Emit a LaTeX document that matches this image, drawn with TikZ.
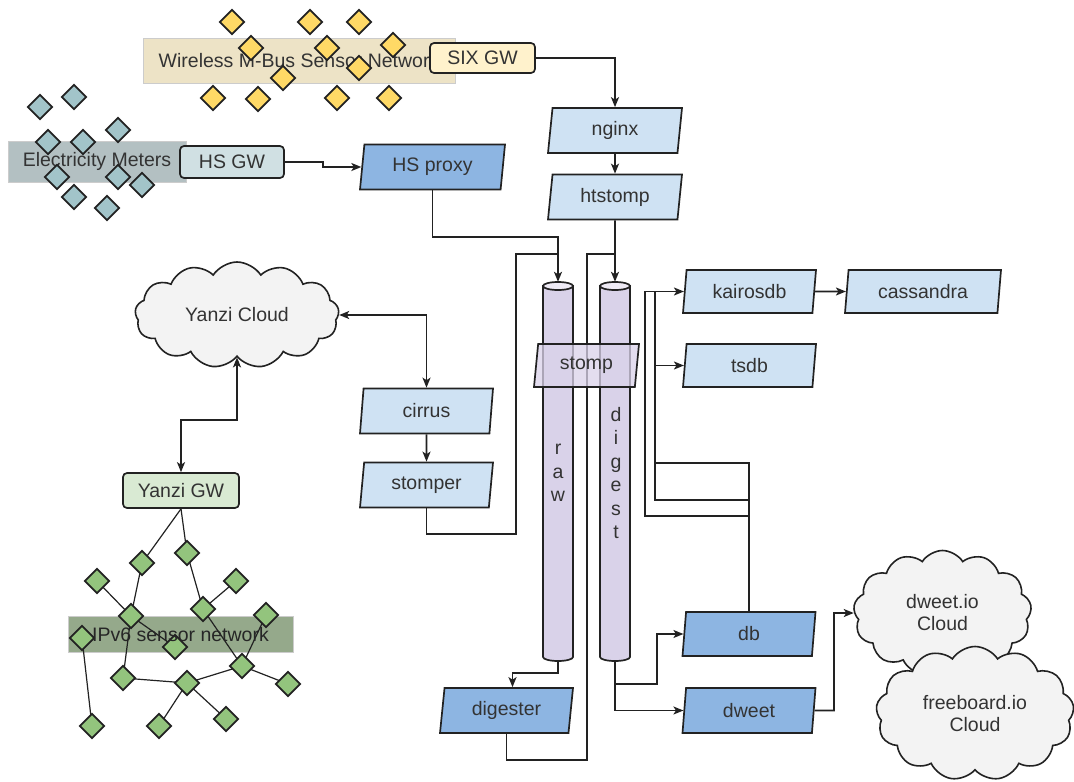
\documentclass[tikz,border=0pt]{standalone}
\usepackage{fontspec}
\setmainfont{Liberation Sans}
\usetikzlibrary{shapes.geometric,shapes.symbols,arrows.meta}
\definecolor{ln}{HTML}{222222}
\definecolor{txt}{HTML}{333333}
\definecolor{lblue}{HTML}{CFE2F3}
\definecolor{dblue}{HTML}{8DB5E2}
\definecolor{lav}{HTML}{D9D2E9}
\definecolor{lavtop}{HTML}{EEEAF5}
\definecolor{cloudfill}{HTML}{F3F3F3}
\definecolor{beige}{HTML}{EDE3C6}
\definecolor{elecfill}{HTML}{B3C0C2}
\definecolor{ipfill}{HTML}{95A98B}
\definecolor{sixfill}{HTML}{FFF2CC}
\definecolor{hsfill}{HTML}{D0E0E3}
\definecolor{ygwfill}{HTML}{D9EAD3}
\definecolor{ydia}{HTML}{FFD966}
\definecolor{bdia}{HTML}{A2C4C9}
\definecolor{gdia}{HTML}{93C47D}
\begin{document}
\begin{tikzpicture}[x=1pt,y=-1pt,
  every node/.style={font=\fontsize{19.5}{22}\selectfont, text=txt},
  line/.style={draw=ln, line width=1.7pt},
  arr/.style={line, -{Stealth[length=10pt,width=8pt,inset=2.5pt]}},
  darr/.style={line, {Stealth[length=10pt,width=8pt,inset=2.5pt]}-{Stealth[length=10pt,width=8pt,inset=2.5pt]}},
  para/.style={trapezium, trapezium left angle=76, trapezium right angle=104,
    trapezium stretches body, draw=ln, line width=1.7pt, inner sep=0pt,
    minimum height=45pt, minimum width=133pt, fill=lblue},
  rbox/.style={draw=ln, line width=1.7pt, rounded corners=4pt, inner sep=0pt},
  lblrect/.style={draw=black!20, line width=0.8pt, inner sep=0pt},
  dia/.style={diamond, draw=ln, line width=1.7pt, inner sep=0pt, minimum size=25pt},
  cloudst/.style={cloud, cloud puffs=13, cloud puff arc=115, cloud ignores aspect,
    draw=ln, line width=1.6pt, fill=cloudfill, inner sep=0pt, align=center},
  edge/.style={draw=ln, line width=1.2pt},
  cylst/.style={draw=ln, line width=1.7pt, fill=lav}
]
\useasboundingbox (0,0) rectangle (1074,782);

% ---------- Wireless M-Bus ----------
\node[lblrect, fill=beige, minimum width=312pt, minimum height=45pt] (wmbus) at (299,60.5) {Wireless M-Bus Sensor Network};
\foreach \x/\y [count=\i] in {232/22,310/22,359/22,251/48,327/48,393/45,283/78,359/68,213/98,258/99,337/98,389/98}
  \node[dia, fill=ydia] (y\i) at (\x,\y) {};
\node[rbox, fill=sixfill, minimum width=105pt, minimum height=30pt] (six) at (482.5,58) {SIX GW};

% ---------- Electricity meters ----------
\node[lblrect, fill=elecfill, minimum width=178pt, minimum height=41pt] (elec) at (97,161.5) {Electricity Meters};
\foreach \x/\y [count=\i] in {40/107,74/97,48/142,83/142,118/130,57/177,118/177,142/185,74/197,107/208}
  \node[dia, fill=bdia] (b\i) at (\x,\y) {};
\node[rbox, fill=hsfill, minimum width=104pt, minimum height=32pt] (hsgw) at (232,162) {HS GW};

% ---------- process nodes ----------
\node[para, minimum width=134pt] (nginx) at (615,130.5) {nginx};
\node[para, minimum width=134pt] (htstomp) at (615,197) {htstomp};
\node[para, fill=dblue, minimum width=145pt] (hsproxy) at (432.5,167) {HS proxy};
\node[para] (cirrus) at (426.5,411) {cirrus};
\node[para] (stomper) at (426.5,485) {stomper};
\node[para, fill=dblue] (digester) at (506.5,710.5) {digester};
\node[para, minimum height=43pt] (kairosdb) at (749.5,291.5) {kairosdb};
\node[para, minimum height=43pt, minimum width=156pt] (cassandra) at (923,291.5) {cassandra};
\node[para, minimum height=43pt] (tsdb) at (749.5,365.5) {tsdb};
\node[para, fill=dblue, minimum height=44pt] (db) at (749,634) {db};
\node[para, fill=dblue] (dweet) at (749,710.5) {dweet};

% ---------- clouds ----------
\node[cloudst, minimum width=204pt, minimum height=106pt] (yc) at (237,315) {Yanzi Cloud};
\node[cloudst, minimum width=178pt, minimum height=125pt] (dcloud) at (942.5,613) {dweet.io\\Cloud};
\node[cloudst, minimum width=198pt, minimum height=134pt] (fcloud) at (975,713.5) {freeboard.io\\Cloud};

% ---------- Yanzi GW + IPv6 network ----------
\node[rbox, fill=ygwfill, minimum width=116pt, minimum height=35pt] (ygw) at (181,490.5) {Yanzi GW};
\node[lblrect, fill=ipfill, minimum width=225pt, minimum height=36pt] (ipv6) at (180.5,634) {};
\foreach \x/\y [count=\i] in {142/563,187/553,97/581,236/581,131/616,203/609,266/615,82/638,175/647,242/666,123/678,187/683,288/684,92/726,159/726,226/719}
  \coordinate (gc\i) at (\x,\y);
\draw[edge] (ygw.south) -- (gc1);
\draw[edge] (ygw.south) -- (gc2);
\foreach \a/\b in {1/5,3/5,5/9,5/11,2/6,6/4,6/10,7/10,10/13,10/12,11/12,12/15,12/16,8/14}
  \draw[edge] (gc\a) -- (gc\b);
\foreach \i in {1,...,16}
  \node[dia, fill=gdia] (g\i) at (gc\i) {};
\node[text=black!85] (ipv6lbl) at (180.5,635) {IPv6 sensor network};

% ---------- connectors (feeding the queues) ----------
\coordinate (j237) at (0,237);
\draw[line] (stomper.south) |- (516,534) |- (558,254);
\draw[line] (digester.south) |- (587,760) |- (615,254);

% ---------- cylinders ----------
\node[minimum width=30pt, minimum height=379pt, inner sep=0pt] (raw) at (558,471.5) {};
\node[minimum width=30pt, minimum height=379pt, inner sep=0pt] (digest) at (615,471.5) {};
\draw[cylst] (543,286) -- (543,657) arc[start angle=180, end angle=0, x radius=15, y radius=4] -- (573,286) -- cycle;
\draw[line, fill=lavtop] (558,286) ellipse[x radius=15, y radius=4];
\draw[cylst] (600,286) -- (600,657) arc[start angle=180, end angle=0, x radius=15, y radius=4] -- (630,286) -- cycle;
\draw[line, fill=lavtop] (615,286) ellipse[x radius=15, y radius=4];
\node[align=center, font=\fontsize{19.5}{23.5}\selectfont] (rawlbl) at (558,473) {r\\a\\w};
\node[align=center, font=\fontsize{19.5}{23.5}\selectfont] (diglbl) at (616,473) {d\\i\\g\\e\\s\\t};
% line between cylinders
\draw[line] (587,254) -- (587,760);
\node[para, fill=lav, fill opacity=0.75, text opacity=1, minimum width=105pt, minimum height=43pt] (stomp) at (586.5,365.5) {stomp};

% ---------- arrows ----------
\draw[arr] (six.east) -| (nginx.north);
\draw[arr] (nginx.south) -- (htstomp.north);
\draw[arr] (htstomp.south) -- (digest.north);
\draw[arr] (hsgw.east) -- ++(38,0) |- (hsproxy.west);
\draw[arr] (hsproxy.south) |- (raw.north |- j237) -- (raw.north);
\draw[line] (516,254) -- (558,254);
\draw[line] (587,254) -- (615,254);
\draw[arr] (raw.south) -- ++(0,12) -| ([xshift=6pt]digester.north);
\draw[arr] (digest.south) |- (dweet.west);
\draw[arr] (615,684) -- (657,684) |- (db.west);
\draw[arr] (dweet.east) -- (834,710.5) |- (dcloud.west);
\draw[arr] (kairosdb.east) -- (cassandra.west);
\draw[line] (db.north) -- (749,463) -- (655,463) -- (655,291.5);
\draw[arr] (749,516) -- (645,516) |- (kairosdb.west);
\draw[arr] (749,500) -- (655,500) |- (tsdb.west);
\draw[darr] (yc.east) -| (cirrus.north);
\draw[arr] (cirrus.south) -- (stomper.north);
\draw[darr] (ygw.north) -- ++(0,-52) -| (yc.south);
\end{tikzpicture}
\end{document}
